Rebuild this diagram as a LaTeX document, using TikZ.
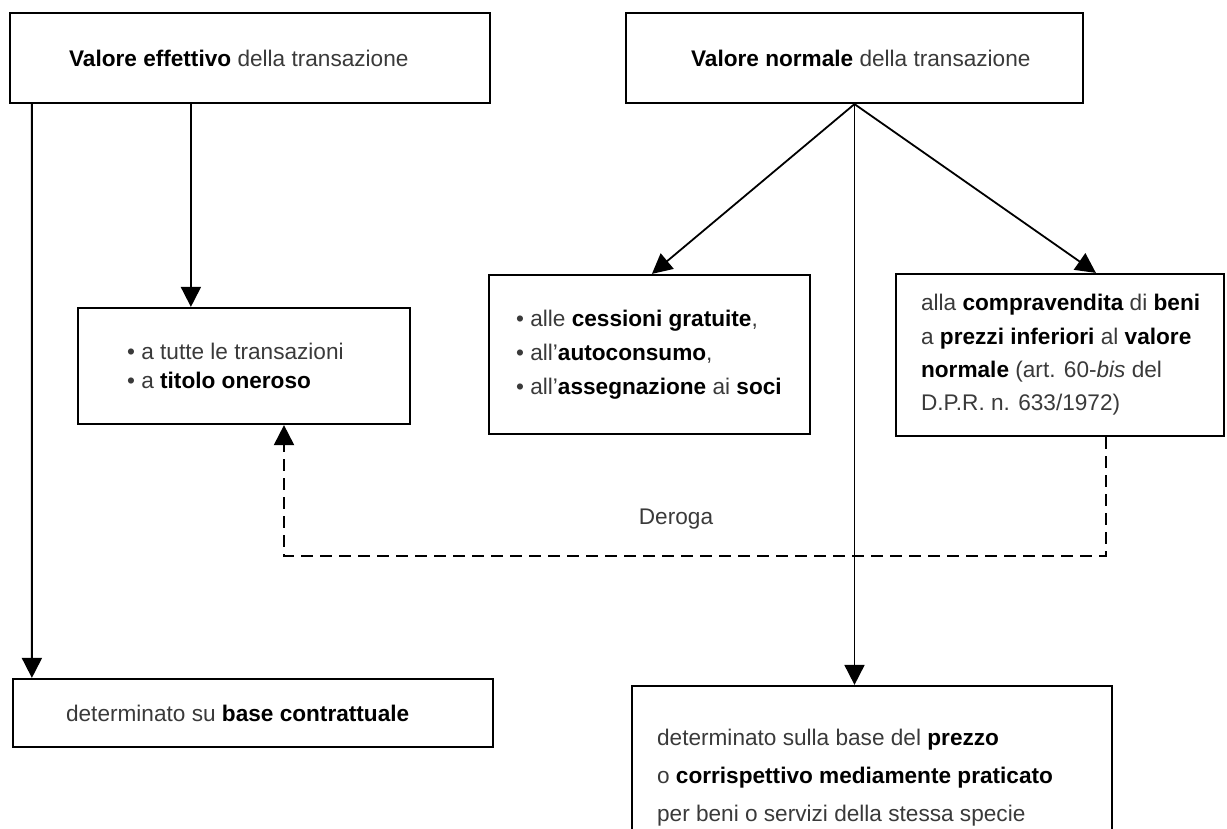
\documentclass[tikz,border=0pt]{standalone}
\usepackage{fontspec}
\setmainfont{Liberation Sans}
\usetikzlibrary{arrows.meta}
\definecolor{txtgray}{HTML}{3A3A3A}
\newcommand\bk[1]{\textcolor{black}{\bfseries #1}}

\begin{document}
\begin{tikzpicture}[x=1bp,y=-1bp,
  box/.style={draw=black, line width=2.2bp, rectangle, inner sep=0pt},
  txt/.style={inner sep=0pt, align=left, text=txtgray, font=\fontsize{22.7}{34}\selectfont},
  link/.style={line width=1.8bp, -{Triangle[length=20bp,width=20bp]}},
  derog/.style={line width=2bp, dash pattern=on 12bp off 7bp, -{Triangle[length=20bp,width=20bp]}},
]
\clip (0,0) rectangle (1227,829);
\fill[white] (0,0) rectangle (1227,829);

% boxes
\node[box, minimum width=480bp, minimum height=90bp]  (b1) at (250,58) {};
\node[box, minimum width=457bp, minimum height=90bp]  (b2) at (854.5,58) {};
\node[box, minimum width=332bp, minimum height=116bp] (b3) at (244,366) {};
\node[box, minimum width=321bp, minimum height=159bp] (b4) at (649.5,354.5) {};
\node[box, minimum width=328bp, minimum height=162bp] (b5) at (1060,355) {};
\node[box, minimum width=480bp, minimum height=68bp]  (b6) at (253,713) {};
\node[box, minimum width=480bp, minimum height=184bp] (b7) at (872,778) {};

% texts
\node[txt, anchor=west] (t1) at ([xshift=60bp]b1.west) {\bk{Valore effettivo} della transazione};
\node[txt, anchor=west] (t2) at ([xshift=66bp]b2.west) {\bk{Valore normale} della transazione};
\node[txt, anchor=west, font=\fontsize{22.7}{29}\selectfont] (t3) at ([xshift=50bp]b3.west)
  {• a tutte le transazioni\\ • a \bk{titolo oneroso}};
\node[txt, anchor=west] (t4) at ([xshift=28bp]b4.west)
  {• alle \bk{cessioni gratuite},\\ • all'\bk{autoconsumo},\\ • all'\bk{assegnazione} ai \bk{soci}};
\node[txt, anchor=west, font=\fontsize{22.7}{33.5}\selectfont] (t5) at ([xshift=26bp]b5.west)
  {alla \bk{compravendita} di \bk{beni}\\ a \bk{prezzi inferiori} al \bk{valore}\\ \bk{normale} (art. 60-\textit{bis} del\\ D.P.R. n. 633/1972)};
\node[txt, anchor=west] (t6) at ([xshift=54bp]b6.west) {determinato su \bk{base contrattuale}};
\node[txt, anchor=west, font=\fontsize{22.7}{38}\selectfont] (t7) at ([xshift=26bp]b7.west)
  {determinato sulla base del \bk{prezzo}\\ o \bk{corrispettivo mediamente praticato}\\ per beni o servizi della stessa specie};

% connectors
\draw[link] ([xshift=23bp]b1.south west) -- ([xshift=20bp]b6.north west);
\draw[link] ([xshift=182bp]b1.south west) -- ([xshift=114bp]b3.north west);
\draw[link] (b2.south) -- ([xshift=164bp]b4.north west);
\draw[link] (b2.south) -- ([xshift=201bp]b5.north west);
\draw[link] (b2.south) -- (b2.south |- b7.north);

% derogation path
\coordinate (dcorner) at (284,556);
\draw[derog] ([xshift=211bp]b5.south west) |- (dcorner) -- (b3.south -| dcorner);
\node[txt] (deroga) at (676,519) {Deroga};
\end{tikzpicture}
\end{document}
